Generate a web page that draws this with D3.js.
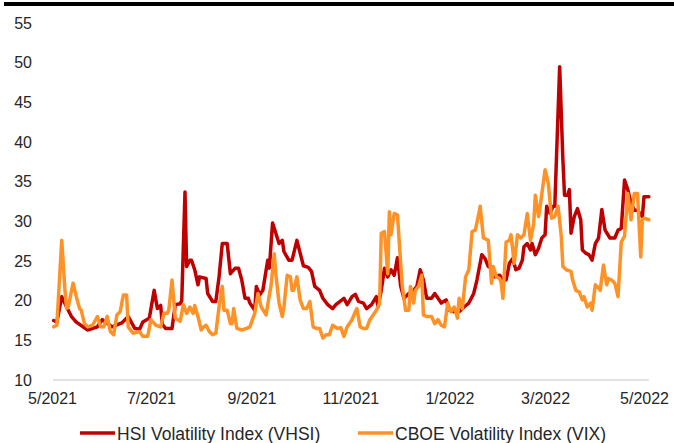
<!DOCTYPE html>
<html>
<head>
<meta charset="utf-8">
<script src="https://cdn.jsdelivr.net/npm/d3@7"></script>
<style>
  body { margin: 0; background: #fff; }
  #chart { width: 674px; height: 443px; }
  text { font-family: "Liberation Sans", Arial, sans-serif; fill: #262626; }
</style>
</head>
<body>
<div id="chart"></div>
<script>
// VHSI readings (date, level)
const vhsiDates = [
  "2021-05-02","2021-05-04","2021-05-07","2021-05-10","2021-05-13","2021-05-16","2021-05-23","2021-05-29",
  "2021-06-01","2021-06-07","2021-06-13","2021-06-17","2021-06-21","2021-06-24","2021-06-26","2021-06-30",
  "2021-07-03","2021-07-05","2021-07-07","2021-07-08","2021-07-10","2021-07-14","2021-07-16","2021-07-19",
  "2021-07-20","2021-07-22","2021-07-23","2021-07-25","2021-07-26","2021-07-28","2021-07-30","2021-07-31",
  "2021-08-04","2021-08-05","2021-08-08","2021-08-10","2021-08-12","2021-08-14","2021-08-17","2021-08-19",
  "2021-08-22","2021-08-24","2021-08-26","2021-08-28","2021-08-30","2021-08-31","2021-09-03","2021-09-04",
  "2021-09-06","2021-09-08","2021-09-11","2021-09-12","2021-09-14","2021-09-16","2021-09-18","2021-09-20",
  "2021-09-21","2021-09-24","2021-09-26","2021-09-29","2021-10-01","2021-10-03","2021-10-06","2021-10-08",
  "2021-10-10","2021-10-13","2021-10-15","2021-10-18","2021-10-21","2021-10-23","2021-10-28","2021-10-30",
  "2021-11-02","2021-11-04","2021-11-06","2021-11-09","2021-11-11","2021-11-14","2021-11-17","2021-11-18",
  "2021-11-20","2021-11-22","2021-11-24","2021-11-26","2021-11-28","2021-11-30","2021-12-02","2021-12-04",
  "2021-12-07","2021-12-10","2021-12-12","2021-12-14","2021-12-16","2021-12-18","2021-12-21","2021-12-23",
  "2021-12-27","2021-12-30","2022-01-01","2022-01-04","2022-01-07","2022-01-10","2022-01-13","2022-01-16",
  "2022-01-18","2022-01-21","2022-01-23","2022-01-25","2022-01-27","2022-01-29","2022-02-01","2022-02-03",
  "2022-02-05","2022-02-07","2022-02-09","2022-02-11","2022-02-13","2022-02-15","2022-02-16","2022-02-18",
  "2022-02-20","2022-02-21","2022-02-23","2022-02-25","2022-02-27","2022-03-01","2022-03-02","2022-03-04",
  "2022-03-06","2022-03-07","2022-03-10","2022-03-12","2022-03-13","2022-03-15","2022-03-16","2022-03-17",
  "2022-03-19","2022-03-21","2022-03-23","2022-03-24","2022-03-26","2022-03-28","2022-03-30","2022-04-01",
  "2022-04-03","2022-04-05","2022-04-07","2022-04-10","2022-04-13","2022-04-15","2022-04-17","2022-04-19",
  "2022-04-21","2022-04-23","2022-04-25","2022-04-27","2022-04-30","2022-05-01","2022-05-04"
];
const vhsiValues = [
  17.5,17.3,20.5,19.2,18.0,17.3,16.3,16.7,
  17.6,16.7,17.2,18.0,16.5,16.4,17.3,17.8,
  21.3,19.0,19.4,17.0,16.5,16.5,19.5,19.6,
  20.0,33.7,24.3,25.1,25.1,23.9,22.0,23.0,
  22.8,20.9,19.9,19.9,23.0,27.2,27.2,23.4,
  24.1,24.1,22.6,20.3,20.3,19.7,18.8,21.8,
  20.7,21.3,25.1,24.1,29.8,28.5,27.2,27.6,
  26.2,25.1,25.1,27.6,26.0,24.4,24.2,23.7,
  21.8,21.3,20.3,19.5,19.0,19.5,20.3,19.5,
  20.5,20.8,19.9,19.7,19.0,19.5,20.5,19.2,
  21.3,24.1,23.0,23.9,23.2,25.4,21.8,20.3,
  20.9,21.3,21.8,23.9,22.6,20.3,20.3,20.9,
  19.7,20.1,18.8,18.6,18.6,19.2,19.7,20.9,
  22.6,25.8,25.3,24.3,24.1,23.0,23.2,22.6,
  22.6,24.7,25.3,23.9,24.1,25.1,26.8,27.2,
  26.4,27.2,25.8,26.6,27.9,28.3,31.9,31.0,
  31.9,31.9,49.5,37.7,33.3,33.3,34.0,28.5,
  30.6,31.6,30.2,26.4,26.0,25.8,25.1,27.2,
  27.9,31.5,28.9,27.9,27.9,28.9,29.1,35.2,
  34.0,32.3,31.4,31.4,30.6,33.1,33.1
];

// VIX readings (date, level)
const vixDates = [
  "2021-05-02","2021-05-04","2021-05-07","2021-05-09","2021-05-10","2021-05-11","2021-05-14","2021-05-16",
  "2021-05-18","2021-05-19","2021-05-21","2021-05-23","2021-05-26","2021-05-29","2021-05-31","2021-06-02",
  "2021-06-04","2021-06-06","2021-06-08","2021-06-10","2021-06-12","2021-06-14","2021-06-16","2021-06-17",
  "2021-06-20","2021-06-24","2021-06-26","2021-06-29","2021-07-01","2021-07-04","2021-07-07","2021-07-09",
  "2021-07-11","2021-07-12","2021-07-14","2021-07-16","2021-07-19","2021-07-21","2021-07-23","2021-07-25",
  "2021-07-27","2021-07-28","2021-07-30","2021-08-01","2021-08-02","2021-08-04","2021-08-06","2021-08-08",
  "2021-08-10","2021-08-12","2021-08-14","2021-08-15","2021-08-17","2021-08-19","2021-08-20","2021-08-21",
  "2021-08-23","2021-08-26","2021-08-29","2021-08-31","2021-09-03","2021-09-05","2021-09-07","2021-09-10",
  "2021-09-12","2021-09-13","2021-09-15","2021-09-16","2021-09-18","2021-09-20","2021-09-21","2021-09-23",
  "2021-09-25","2021-09-26","2021-09-27","2021-09-29","2021-10-01","2021-10-03","2021-10-05","2021-10-07",
  "2021-10-09","2021-10-11","2021-10-13","2021-10-15","2021-10-17","2021-10-19","2021-10-21","2021-10-24",
  "2021-10-26","2021-10-28","2021-10-30","2021-11-02","2021-11-04","2021-11-05","2021-11-07","2021-11-09",
  "2021-11-11","2021-11-13","2021-11-15","2021-11-17","2021-11-19","2021-11-20","2021-11-22","2021-11-24",
  "2021-11-25","2021-11-26","2021-11-28","2021-11-30","2021-12-02","2021-12-03","2021-12-05","2021-12-07",
  "2021-12-08","2021-12-10","2021-12-11","2021-12-13","2021-12-15","2021-12-16","2021-12-18","2021-12-21",
  "2021-12-23","2021-12-25","2021-12-27","2021-12-29","2021-12-31","2022-01-02","2022-01-04","2022-01-06",
  "2022-01-07","2022-01-09","2022-01-11","2022-01-13","2022-01-15","2022-01-17","2022-01-19","2022-01-20",
  "2022-01-22","2022-01-25","2022-01-27","2022-01-28","2022-01-30","2022-02-01","2022-02-02","2022-02-03",
  "2022-02-05","2022-02-07","2022-02-08","2022-02-10","2022-02-12","2022-02-14","2022-02-16","2022-02-18",
  "2022-02-20","2022-02-22","2022-02-23","2022-02-25","2022-02-26","2022-03-01","2022-03-03","2022-03-05",
  "2022-03-07","2022-03-09","2022-03-11","2022-03-12","2022-03-14","2022-03-17","2022-03-18","2022-03-20",
  "2022-03-22","2022-03-24","2022-03-25","2022-03-27","2022-03-29","2022-03-30","2022-04-01","2022-04-03",
  "2022-04-04","2022-04-06","2022-04-08","2022-04-09","2022-04-11","2022-04-13","2022-04-15","2022-04-17",
  "2022-04-19","2022-04-21","2022-04-23","2022-04-25","2022-04-27","2022-04-29","2022-04-30","2022-05-01",
  "2022-05-04"
];
const vixValues = [
  16.7,16.9,27.6,21.3,19.0,19.2,22.2,20.5,
  19.0,18.8,17.1,16.7,16.9,18.0,16.7,16.7,
  18.0,16.1,15.7,18.2,18.6,20.7,20.7,16.7,
  15.9,16.1,15.5,15.5,17.6,16.9,16.7,18.4,
  18.4,18.8,22.6,17.8,17.4,19.5,18.4,19.2,
  18.4,19.4,18.0,16.3,16.6,16.9,16.1,15.7,
  15.9,19.2,21.8,18.8,18.8,17.1,17.1,19.0,
  16.5,16.3,16.5,16.7,18.4,20.9,19.2,18.2,
  20.7,21.8,25.9,23.4,19.7,18.0,19.2,23.2,
  23.0,21.3,21.3,23.0,20.1,19.0,19.0,19.9,
  16.7,16.5,16.5,15.3,15.7,15.7,16.9,16.5,
  16.6,15.5,16.7,17.6,18.6,19.0,16.7,16.5,
  16.5,17.6,18.2,18.8,19.7,28.5,28.7,23.4,
  31.2,28.3,31.0,30.8,24.7,21.8,18.8,18.8,
  21.8,19.7,21.3,21.8,23.2,18.2,18.0,18.0,
  17.1,17.6,16.9,16.7,19.7,18.6,19.2,17.8,
  20.3,19.0,23.0,23.9,28.7,28.9,30.8,31.9,
  27.9,27.6,22.2,24.3,23.0,22.8,22.2,20.3,
  27.4,27.6,28.3,24.7,28.3,27.9,28.3,31.0,
  27.6,29.7,33.3,30.6,31.9,36.5,34.8,30.4,
  30.6,31.9,28.1,24.3,23.9,23.7,22.6,21.3,
  21.1,20.1,20.5,19.2,19.7,18.8,22.0,21.6,
  21.3,24.5,22.0,22.8,22.6,22.2,20.5,27.4,
  28.1,33.5,30.2,33.5,33.5,25.5,30.2,30.4,
  30.2
];

const yTicks = [10, 15, 20, 25, 30, 35, 40, 45, 50, 55];
const xTickLabels = ["2021-05-01","2021-07-01","2021-09-01","2021-11-01","2022-01-01","2022-03-01","2022-05-01"];
const seriesNames = ["HSI Volatility Index (VHSI)", "CBOE Volatility Index (VIX)"];
const seriesColors = ["#C00000", "#FF9226"];

const parseDate = d3.timeParse("%Y-%m-%d");
const vhsi = vhsiDates.map((d, i) => ({date: parseDate(d), value: vhsiValues[i]}));
const vix = vixDates.map((d, i) => ({date: parseDate(d), value: vixValues[i]}));

const width = 674, height = 443;
const svg = d3.select("#chart").append("svg")
    .attr("width", width)
    .attr("height", height);

// top rule
svg.append("rect")
    .attr("x", 4).attr("y", 2)
    .attr("width", width - 4).attr("height", 4)
    .attr("fill", "#000");

const x = d3.scaleTime()
    .domain([parseDate("2021-05-01"), parseDate("2022-05-01")])
    .range([52, 644]);

const y = d3.scaleLinear()
    .domain([10, 55])
    .range([380, 23]);

// baseline
const lastDate = d3.max(vhsi.concat(vix), d => d.date);
svg.append("line")
    .attr("x1", x.range()[0] + 1).attr("x2", x(lastDate))
    .attr("y1", y(10)).attr("y2", y(10))
    .attr("stroke", "#d9d9d9")
    .attr("stroke-width", 1.5);

// y axis labels
const yAxis = svg.append("g")
    .attr("transform", `translate(${x.range()[0]},0)`)
    .call(d3.axisLeft(y).tickValues(yTicks).tickSize(0).tickPadding(20));
yAxis.select(".domain").remove();
yAxis.selectAll("text")
    .style("font-size", "16px")
    .attr("fill", "#262626");

// x axis labels
const xAxis = svg.append("g")
    .attr("transform", `translate(0,${y(10)})`)
    .call(d3.axisBottom(x)
        .tickValues(xTickLabels.map(parseDate))
        .tickFormat(d3.timeFormat("%-m/%Y"))
        .tickSize(0).tickPadding(13));
xAxis.select(".domain").remove();
xAxis.selectAll("text")
    .style("font-size", "16px")
    .attr("fill", "#262626");

const line = d3.line()
    .x(d => x(d.date))
    .y(d => y(d.value));

// VHSI underneath, VIX drawn on top
[vhsi, vix].forEach((data, i) => {
    svg.append("path")
        .datum(data)
        .attr("fill", "none")
        .attr("stroke", seriesColors[i])
        .attr("stroke-width", 3.5)
        .attr("stroke-linejoin", "round")
        .attr("stroke-linecap", "round")
        .attr("d", line);
});

// legend
const legendX = [80, 358];
const legend = svg.append("g").attr("transform", "translate(0,433)");
seriesNames.forEach((name, i) => {
    legend.append("line")
        .attr("x1", legendX[i]).attr("x2", legendX[i] + 35)
        .attr("y1", 0).attr("y2", 0)
        .attr("stroke", seriesColors[i])
        .attr("stroke-width", 3.5);
    legend.append("text")
        .attr("x", legendX[i] + 37)
        .attr("y", 6.5)
        .style("font-size", "17.5px")
        .text(name);
});
</script>
</body>
</html>
